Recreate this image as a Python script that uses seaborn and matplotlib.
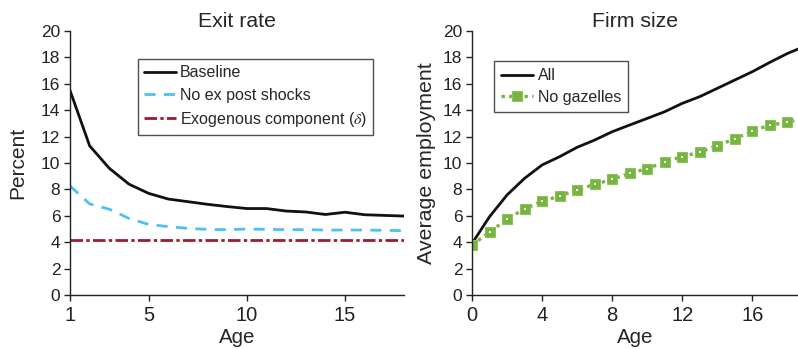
import numpy as np
import pandas as pd
import matplotlib
matplotlib.use("Agg")
import matplotlib.pyplot as plt
import seaborn as sns

# ---- Data ----
exit_age = list(range(1, 19))
baseline = [15.5, 11.3, 9.6, 8.4, 7.7, 7.27, 7.07, 6.87, 6.7, 6.55, 6.55, 6.36, 6.29, 6.1, 6.27, 6.08, 6.03, 5.98]
no_ex_post = [8.26, 6.9, 6.5, 5.8, 5.35, 5.18, 5.05, 4.97, 4.95, 5.0, 4.97, 4.95, 4.95, 4.92, 4.92, 4.92, 4.9, 4.87]
exogenous = [4.17] * 18

size_age = list(range(0, 20))
size_all = [3.9, 5.93, 7.58, 8.84, 9.85, 10.48, 11.19, 11.74, 12.37, 12.88, 13.38, 13.89, 14.52, 15.03,
            15.66, 16.29, 16.92, 17.63, 18.3, 18.85]
size_no_gazelles = [3.79, 4.75, 5.76, 6.52, 7.1, 7.5, 7.98, 8.38, 8.76, 9.22, 9.57, 10.08, 10.48, 10.83,
                    11.31, 11.84, 12.42, 12.88, 13.08, 13.4]

BLACK = "#111111"
BLUE = "#4dc1ef"
RED = "#a3182f"
GREEN = "#78b442"

sns.set_theme(style="ticks")
plt.rcParams["font.family"] = ["Liberation Sans", "DejaVu Sans"]
plt.rcParams["mathtext.fontset"] = "stix"

fig = plt.figure(figsize=(7.98, 3.49), dpi=100)
W, H = 798, 349
ax1 = fig.add_axes([70 / W, 1 - 295 / H, (404 - 70) / W, (295 - 31) / H])
ax2 = fig.add_axes([472 / W, 1 - 295 / H, (798 - 472) / W, (295 - 31) / H])

df1 = pd.DataFrame({"Age": exit_age, "Baseline": baseline, "NoEx": no_ex_post, "Exo": exogenous})
sns.lineplot(data=df1, x="Age", y="Baseline", ax=ax1, color=BLACK, lw=2, label="Baseline")
sns.lineplot(data=df1, x="Age", y="NoEx", ax=ax1, color=BLUE, lw=2, label="No ex post shocks")
ax1.lines[-1].set_dashes([4, 3])
sns.lineplot(data=df1, x="Age", y="Exo", ax=ax1, color=RED, lw=2,
             label=r"Exogenous component ($\delta$)")
ax1.lines[-1].set_dashes([4.5, 1.2, 1.2, 1.2])

df2 = pd.DataFrame({"Age": size_age, "All": size_all, "NoG": size_no_gazelles})
sns.lineplot(data=df2, x="Age", y="All", ax=ax2, color=BLACK, lw=2, label="All")
sns.lineplot(data=df2, x="Age", y="NoG", ax=ax2, color=GREEN, lw=2.4, label="No gazelles",
             marker="s", markersize=6.5, markerfacecolor=GREEN, markeredgecolor="#8cc25e",
             markeredgewidth=0.8)
ax2.lines[-1].set_linestyle((0, (1.0, 1.3)))
sns.lineplot(data=df2, x="Age", y="NoG", ax=ax2, lw=0, marker="s", markersize=2,
             markerfacecolor="white", markeredgecolor="white", markeredgewidth=0, legend=False)
ax2.lines[-1].set_linestyle("none")

for ax in (ax1, ax2):
    ax.set_ylim(0, 20)
    ax.set_yticks(range(0, 21, 2))
    ax.spines["top"].set_visible(False)
    ax.spines["right"].set_visible(False)
    for s in ("left", "bottom"):
        ax.spines[s].set_color("#222222")
        ax.spines[s].set_linewidth(1.0)
    ax.tick_params(axis="both", direction="out", length=4, width=1, colors="#222222", pad=3)
    ax.tick_params(axis="y", labelsize=12.5)
    ax.tick_params(axis="x", labelsize=14.5, pad=4)
    ax.set_xlabel("Age", fontsize=14.8, labelpad=2)

ax1.set_xlim(1, 18)
ax1.set_xticks([1, 5, 10, 15])
ax1.set_ylabel("Percent", fontsize=15, labelpad=10)
ax1.set_title("Exit rate", fontsize=15.3, pad=1.5)

ax2.set_xlim(0, 18.6)
ax2.set_xticks([0, 4, 8, 12, 16])
ax2.set_ylabel("Average employment", fontsize=15.4, labelpad=5)
ax2.set_title("Firm size", fontsize=15.3, pad=1.5)

leg1 = ax1.legend(loc="upper left", bbox_to_anchor=((138 - 70) / 334, (295 - 59) / 264),
                  frameon=True, fancybox=False, fontsize=11.5, handlelength=2.0,
                  handletextpad=0.2, borderpad=0.4, labelspacing=0.45, borderaxespad=0)
leg1.get_frame().set_edgecolor("#222222")
leg1.get_frame().set_linewidth(1.0)

leg2 = ax2.legend(loc="upper left", bbox_to_anchor=((494 - 472) / 326, (295 - 61) / 264),
                  frameon=True, fancybox=False, fontsize=11.5, handlelength=2.0,
                  handletextpad=0.3, borderpad=0.45, labelspacing=0.4, borderaxespad=0)
leg2.get_frame().set_edgecolor("#222222")
leg2.get_frame().set_linewidth(1.0)

fig.savefig("out.png", dpi=100)
